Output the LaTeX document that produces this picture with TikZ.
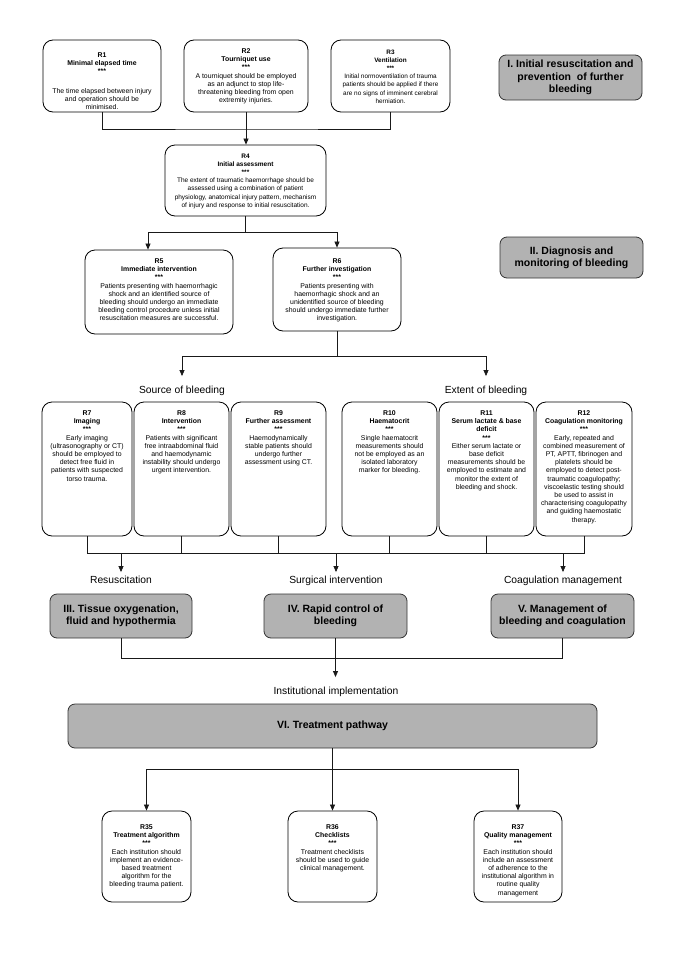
\documentclass[tikz,border=0pt]{standalone}
\usepackage{fontspec}
\setmainfont{Liberation Sans}
\usetikzlibrary{arrows.meta,calc}
\newcommand{\mkrbox}[8]{%
  \node[rb, minimum width={#4-#2}, minimum height={#5-#3}] (#1) at ({(#2+#4)/2},{(#3+#5)/2}) {};
  \node[rt, anchor=north, #7] (#1t) at ({(#2+#4)/2},{#6}) {#8};
}
\begin{document}
\begin{tikzpicture}[x=1pt,y=-1pt,
  rb/.style={draw=black, line width=0.8pt, rounded corners=10pt, fill=white, inner sep=0pt},
  gb/.style={draw=black!80, line width=0.8pt, rounded corners=7pt, fill=black!30, inner sep=0pt, align=center, font=\bfseries\fontsize{10.5}{12.3}\selectfont},
  rt/.style={align=center, inner sep=0pt, font=\fontsize{6.9}{8.2}\selectfont},
  lab/.style={inner sep=0pt, text height=7.5pt, text depth=2pt, font=\fontsize{10.3}{12}\selectfont},
  conn/.style={draw=black!90, line width=0.7pt},
  arr/.style={conn, -{Triangle[length=6pt,width=5pt]}},
]
\useasboundingbox (0,0) rectangle (685,969);

% ---- row 1
\mkrbox{r1}{43}{40}{161}{112}{52.5}{}{\textbf{R1}\\\textbf{Minimal elapsed time}\\\textbf{***}\\[11pt]The time elapsed between injury\\and operation should be\\minimised.}
\mkrbox{r2}{184}{40}{308}{112}{48.5}{}{\textbf{R2}\\\textbf{Tourniquet use}\\\textbf{***}\\A tourniquet should be employed\\as an adjunct to stop life-\\threatening bleeding from open\\extremity injuries.}
\mkrbox{r3}{331}{40}{450}{112}{49.5}{font=\fontsize{6.4}{8.2}\selectfont}{\textbf{R3}\\\textbf{Ventilation}\\\textbf{***}\\Initial normoventilation of trauma\\patients should be applied if there\\are no signs of imminent cerebral\\herniation.}
\node[gb, minimum width=143, minimum height=45] (g1) at (570.5,77.5) {I. Initial resuscitation and\\prevention\ \ of further\\bleeding};

% ---- R4
\mkrbox{r4}{165}{145}{326}{216}{153.5}{font=\fontsize{6.5}{8.2}\selectfont}{\textbf{R4}\\\textbf{Initial assessment}\\\textbf{***}\\The extent of traumatic haemorrhage should be\\assessed using a combination of patient\\physiology, anatomical injury pattern, mechanism\\of injury and response to initial resuscitation.}

% ---- R5, R6
\mkrbox{r5}{85}{250}{233}{334}{258.5}{}{\textbf{R5}\\\textbf{Immediate intervention}\\\textbf{***}\\Patients presenting with haemorrhagic\\shock and an identified source of\\bleeding should undergo an immediate\\bleeding control procedure unless initial\\resuscitation measures are successful.}
\mkrbox{r6}{273}{248}{401}{331}{258.5}{}{\textbf{R6}\\\textbf{Further investigation}\\\textbf{***}\\Patients presenting with\\haemorrhagic shock and an\\unidentified source of bleeding\\should undergo immediate further\\investigation.}
\node[gb, minimum width=143, minimum height=41] (g2) at (571.5,257.5) {II. Diagnosis and\\monitoring of bleeding};

% ---- labels
\node[lab] (src) at (182,391) {Source of bleeding};
\node[lab] (ext) at (486,391) {Extent of bleeding};

% ---- R7 - R12
\mkrbox{r7}{42}{402}{132}{536}{410.5}{}{\textbf{R7}\\\textbf{Imaging}\\\textbf{***}\\Early imaging\\(ultrasonography or CT)\\should be employed to\\detect free fluid in\\patients with suspected\\torso trauma.}
\mkrbox{r8}{134}{402}{229}{536}{410.5}{}{\textbf{R8}\\\textbf{Intervention}\\\textbf{***}\\Patients with significant\\free intraabdominal fluid\\and haemodynamic\\instability should undergo\\urgent intervention.}
\mkrbox{r9}{231}{402}{326}{536}{410.5}{}{\textbf{R9}\\\textbf{Further assessment}\\\textbf{***}\\Haemodynamically\\stable patients should\\undergo further\\assessment using CT.}
\mkrbox{r10}{342}{402}{437}{536}{410.5}{}{\textbf{R10}\\\textbf{Haematocrit}\\\textbf{***}\\Single haematocrit\\measurements should\\not be employed as an\\isolated laboratory\\marker for bleeding.}
\mkrbox{r11}{439}{402}{534}{536}{410.5}{}{\textbf{R11}\\\textbf{Serum lactate \& base}\\\textbf{deficit}\\\textbf{***}\\Either serum lactate or\\base deficit\\measurements should be\\employed to estimate and\\monitor the extent of\\bleeding and shock.}
\mkrbox{r12}{536}{402}{632}{536}{410.5}{}{\textbf{R12}\\\textbf{Coagulation monitoring}\\\textbf{***}\\Early, repeated and\\combined measurement of\\PT, APTT, fibrinogen and\\platelets should be\\employed to detect post-\\traumatic coagulopathy;\\viscoelastic testing should\\be used to assist in\\characterising coagulopathy\\and guiding haemostatic\\therapy.}

% ---- labels row
\node[lab] (resus) at (121,581) {Resuscitation};
\node[lab] (surg) at (336,581) {Surgical intervention};
\node[lab] (coag) at (563,581) {Coagulation management};

\node[gb, minimum width=142, minimum height=44] (g3) at (121,616) {III. Tissue oxygenation,\\fluid and hypothermia};
\node[gb, minimum width=143, minimum height=44] (g4) at (335.5,616) {IV. Rapid control of\\bleeding};
\node[gb, minimum width=143, minimum height=44] (g5) at (562.5,616) {V. Management of\\bleeding and coagulation};

\node[lab] (impl) at (336,692) {Institutional implementation};
\node[gb, minimum width=529, minimum height=44] (g6) at (332.5,726) {VI. Treatment pathway};

% ---- R35 - R37
\mkrbox{r35}{102}{811}{191}{902}{824.5}{}{\textbf{R35}\\\textbf{Treatment algorithm}\\\textbf{***}\\Each institution should\\implement an evidence-\\based treatment\\algorithm for the\\bleeding trauma patient.}
\mkrbox{r36}{288}{811}{377}{902}{824.5}{}{\textbf{R36}\\\textbf{Checklists}\\\textbf{***}\\Treatment checklists\\should be used to guide\\clinical management.}
\mkrbox{r37}{474}{811}{562}{902}{824.5}{}{\textbf{R37}\\\textbf{Quality management}\\\textbf{***}\\Each institution should\\include an assessment\\of adherence to the\\institutional algorithm in\\routine quality\\management}

% ---- connectors
\coordinate (j1) at (247,129);
\draw[conn] (r1.south) |- (j1) -| (r3.south);
\draw[arr] (r2.south) -- (r2.south |- r4.north);

\coordinate (j2) at (246,232);
\draw[conn] (r4.south) -- (r4.south |- j2);
\draw[arr] (r4.south |- j2) -| ([xshift=-11pt]r5.north);
\draw[arr] (r4.south |- j2) -| (r6.north);

\coordinate (j3) at (337,356);
\draw[conn] (r6.south) -- (r6.south |- j3);
\draw[arr, shorten >=10pt] (r6.south |- j3) -| (src.north);
\draw[arr, shorten >=10pt] (r6.south |- j3) -| (ext.north);

\coordinate (bus) at (0,553);
\draw[conn] (r7.south) |- (r12.south |- bus) -- (r12.south);
\foreach \r in {r8,r9,r10,r11} {\draw[conn] (\r.south) -- (\r.south |- bus);}
\draw[arr, shorten >=4pt] (resus.north |- bus) -- (resus.north);
\draw[arr, shorten >=4pt] (surg.north |- bus) -- (surg.north);
\draw[arr, shorten >=4pt] (coag.north |- bus) -- (coag.north);

\coordinate (bus2) at (0,658);
\draw[conn] (g3.south) |- (g5.south |- bus2) -- (g5.south);
\draw[arr, shorten >=10pt] (g4.south) -- (g4.south |- impl.north);

\coordinate (bus3) at (0,769);
\draw[arr] (g6.south) -- (g6.south |- r36.north);
\draw[arr] (g6.south |- bus3) -| (r35.north);
\draw[arr] (g6.south |- bus3) -| (r37.north);
\end{tikzpicture}
\end{document}
